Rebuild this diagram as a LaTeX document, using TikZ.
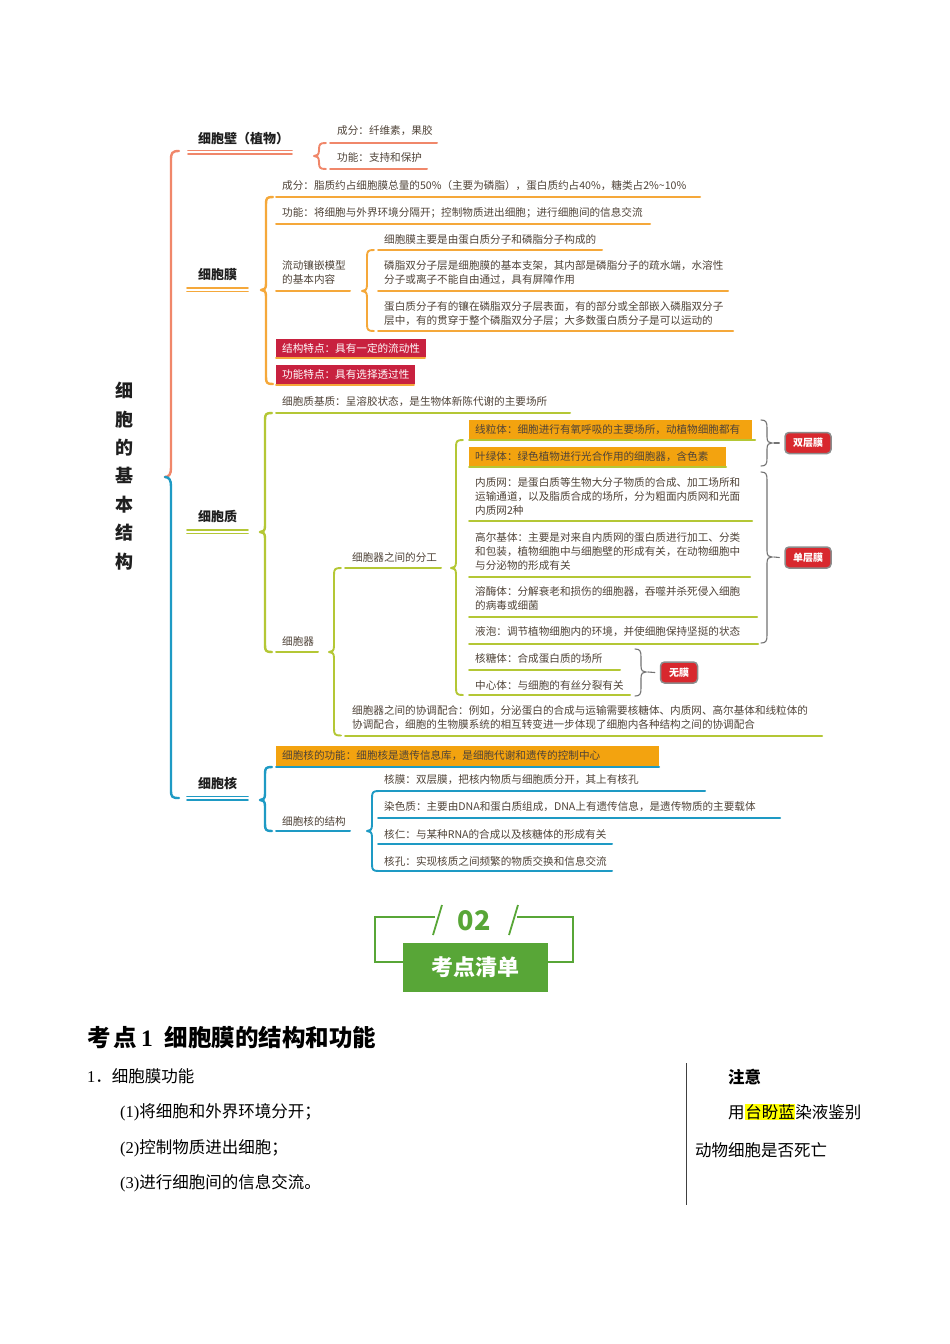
\documentclass[tikz,border=0pt]{standalone}
\usepackage{fontspec}
\setmainfont{Liberation Serif}
\newfontfamily\cjk{Noto Sans CJK SC}
\usetikzlibrary{calc}
\definecolor{salmon}{HTML}{F0876A}
\definecolor{memor}{HTML}{F5A83A}
\definecolor{cgreen}{HTML}{B4C735}
\definecolor{tealc}{HTML}{1E9AC4}
\definecolor{crim}{HTML}{C8213F}
\definecolor{oboxc}{HTML}{F3A30F}
\definecolor{tagred}{HTML}{D8282E}
\definecolor{bgreen}{HTML}{58A637}
\definecolor{txtc}{HTML}{4F4338}
\definecolor{hly}{HTML}{FFFF00}
\newcommand\hlyel[1]{{\setlength{\fboxsep}{0.6pt}\colorbox{hly}{#1}}}
% left brace: style, x, top, cusp, bottom
\newcommand\mmbraceL[5]{%
  \draw[#1] (#2+7,#3) .. controls (#2+1,#3) and (#2,#3+1) .. (#2,#3+7)
    -- (#2,#4-6) .. controls (#2,#4-1) and (#2-2,#4) .. (#2-5,#4)
    .. controls (#2-2,#4) and (#2,#4+1) .. (#2,#4+6)
    -- (#2,#5-7) .. controls (#2,#5-1) and (#2+1,#5) .. (#2+7,#5);}
% right brace: tip name, x, top, cusp, bottom
\newcommand\mmbraceR[5]{%
  \draw[gbrc] (#2-6,#3) .. controls (#2-1,#3) and (#2,#3+2) .. (#2,#3+8)
    -- (#2,#4-6) .. controls (#2,#4-1) and (#2+2,#4) .. (#2+5,#4)
    .. controls (#2+2,#4) and (#2,#4+1) .. (#2,#4+6)
    -- (#2,#5-8) .. controls (#2,#5-2) and (#2-1,#5) .. (#2-6,#5);
  \coordinate (#1) at (#2+5,#4);}
\tikzset{
  txt/.style={anchor=west, inner sep=0pt, align=left, text=txtc, font=\cjk\fontsize{10.6}{14}\selectfont},
  lbl/.style={anchor=west, inner sep=0pt, text=black!88, font=\cjk\bfseries\fontsize{13}{15}\selectfont},
  ul/.style={line width=2pt, line cap=round},
  dbl/.style={line width=1.7pt, line cap=round},
  brc/.style={line width=2.4pt, line cap=round, line join=round},
  sbrc/.style={line width=1.9pt, line cap=round, line join=round},
  gbrc/.style={line width=1.1pt, draw=black!55, line cap=round},
  redbox/.style={anchor=north west, fill=crim, inner xsep=6pt, inner ysep=0pt, text=white, font=\cjk\fontsize{10.6}{13}\selectfont},
  obox/.style={anchor=north west, fill=oboxc, inner xsep=6pt, inner ysep=0pt, minimum height=20pt, align=left, text=txtc, font=\cjk\fontsize{10.6}{13}\selectfont},
  tag/.style={rounded corners=4pt, fill=tagred, draw=black!45, line width=1.5pt, minimum width=46pt, minimum height=21pt, inner sep=0pt, text=white, font=\cjk\bfseries\fontsize{10}{12}\selectfont},
  body/.style={anchor=west, inner sep=0pt, text=black, font=\cjk\fontsize{16.5}{19}\selectfont},
}
\begin{document}
\begin{tikzpicture}[x=1pt,y=-1pt]
\useasboundingbox[fill=white] (0,0) rectangle (950,1344);

% ---- title
\node[inner sep=0pt, align=center, text=black!88, font=\cjk\bfseries\fontsize{18}{28.4}\selectfont] (title) at (124,476) {细\\胞\\的\\基\\本\\结\\构};
\draw[brc,salmon] (179,151) .. controls (172,151) and (171,153) .. (171,160) -- (171,468) .. controls (171,474) and (169,477) .. (165,477);
\draw[brc,tealc] (165,477) .. controls (169,477) and (171,480) .. (171,486) -- (171,790) .. controls (171,797) and (172,798) .. (179,798);

% ---- cell wall
\node[lbl] (cw) at (198,139) {细胞壁（植物）};
\draw[dbl,salmon] (188,150.5) -- (292,150.5);
\draw[dbl,salmon] (188,154) -- (292,154);
\mmbraceL{sbrc,salmon}{319}{143}{156}{169}
\node[txt] (cw1) at (337,131) {成分：纤维素，果胶};
\draw[ul,salmon] (330,142.5) -- (437,142.5);
\node[txt] (cw2) at (337,157) {功能：支持和保护};
\draw[ul,salmon] (330,169) -- (427,169);

% ---- cell membrane
\node[lbl] (cm) at (198,275) {细胞膜};
\draw[dbl,memor] (187,288) -- (248,288);
\draw[dbl,memor] (187,291.5) -- (248,291.5);
\mmbraceL{brc,memor}{266}{197}{290}{384}
\node[txt] (cm1) at (282,186) {成分：脂质约占细胞膜总量的50\%（主要为磷脂），蛋白质约占40\%，糖类占2\%\textasciitilde10\%};
\draw[ul,memor] (276,197) -- (700,197);
\node[txt] (cm2) at (282,213) {功能：将细胞与外界环境分隔开；控制物质进出细胞；进行细胞间的信息交流};
\draw[ul,memor] (276,223.5) -- (650,223.5);
\node[txt] (cm3) at (282,272.5) {流动镶嵌模型\\的基本内容};
\draw[ul,memor] (276,291) -- (350,291);
\mmbraceL{sbrc,memor}{367}{250}{291}{331}
\node[txt] (cm31) at (384,240) {细胞膜主要是由蛋白质分子和磷脂分子构成的};
\draw[ul,memor] (378,250) -- (602,250);
\node[txt] (cm32) at (384,273) {磷脂双分子层是细胞膜的基本支架，其内部是磷脂分子的疏水端，水溶性\\分子或离子不能自由通过，具有屏障作用};
\draw[ul,memor] (378,291) -- (728,291);
\node[txt] (cm33) at (384,313.5) {蛋白质分子有的镶在磷脂双分子层表面，有的部分或全部嵌入磷脂双分子\\层中，有的贯穿于整个磷脂双分子层；大多数蛋白质分子是可以运动的};
\draw[ul,memor] (378,331) -- (733,331);
\node[redbox, minimum height=18pt] (rb1) at (276,339) {结构特点：具有一定的流动性};
\draw[ul,memor] (276,358) -- (425,358);
\node[redbox, minimum height=19pt] (rb2) at (276,364.5) {功能特点：具有选择透过性};
\draw[ul,memor] (276,384.5) -- (414,384.5);

% ---- cytoplasm
\node[lbl] (cz) at (198,517) {细胞质};
\draw[dbl,cgreen] (187,530) -- (248,530);
\draw[dbl,cgreen] (187,533.5) -- (248,533.5);
\mmbraceL{brc,cgreen}{265}{413}{532}{652}
\node[txt] (cz1) at (282,402) {细胞质基质：呈溶胶状态，是生物体新陈代谢的主要场所};
\draw[ul,cgreen] (276,413) -- (570,413);
\node[txt] (cz2) at (282,641) {细胞器};
\draw[ul,cgreen] (276,652) -- (318,652);
\mmbraceL{sbrc,cgreen}{334}{568}{652}{735.5}
\node[txt] (fg) at (352,557) {细胞器之间的分工};
\draw[ul,cgreen] (345,568) -- (441,568);
\mmbraceL{sbrc,cgreen}{456}{440}{568}{695}
\node[obox, text width=271pt] (o1) at (469,419.5) {线粒体：细胞进行有氧呼吸的主要场所，动植物细胞都有};
\draw[ul,cgreen] (469,440) -- (755,440);
\node[obox, text width=245pt] (o2) at (469,446.5) {叶绿体：绿色植物进行光合作用的细胞器，含色素};
\draw[ul,cgreen] (469,467) -- (726,467);
\node[txt] (o3) at (475,496.5) {内质网：是蛋白质等生物大分子物质的合成、加工场所和\\运输通道，以及脂质合成的场所，分为粗面内质网和光面\\内质网2种};
\draw[ul,cgreen] (469,521) -- (752,521);
\node[txt] (o4) at (475,551) {高尔基体：主要是对来自内质网的蛋白质进行加工、分类\\和包装，植物细胞中与细胞壁的形成有关，在动物细胞中\\与分泌物的形成有关};
\draw[ul,cgreen] (469,576.5) -- (750,576.5);
\node[txt] (o5) at (475,598) {溶酶体：分解衰老和损伤的细胞器，吞噬并杀死侵入细胞\\的病毒或细菌};
\draw[ul,cgreen] (469,617) -- (757,617);
\node[txt] (o6) at (475,632) {液泡：调节植物细胞内的环境，并使细胞保持坚挺的状态};
\draw[ul,cgreen] (469,643.5) -- (758,643.5);
\node[txt] (o7) at (475,658.5) {核糖体：合成蛋白质的场所};
\draw[ul,cgreen] (469,670) -- (620,670);
\node[txt] (o8) at (475,685.5) {中心体：与细胞的有丝分裂有关};
\draw[ul,cgreen] (469,695) -- (630,695);

\mmbraceR{b1}{767}{420}{443}{466}
\node[tag] (t1) at (808,443) {双层膜};
\draw[gbrc] ($(b1)+(2,0)$) -- ($(t1.west)+(-5,0)$);
\mmbraceR{b2}{767}{472}{557}{643}
\node[tag] (t2) at (808,557.5) {单层膜};
\draw[gbrc] ($(b2)+(2,0)$) -- ($(t2.west)+(-5,0)$);
\mmbraceR{b3}{641}{649}{672}{696}
\node[tag, minimum width=37pt] (t3) at (679,672.5) {无膜};
\draw[gbrc] ($(b3)+(2,0)$) -- ($(t3.west)+(-5,0)$);

\node[txt] (xt) at (352,717.5) {细胞器之间的协调配合：例如，分泌蛋白的合成与运输需要核糖体、内质网、高尔基体和线粒体的\\协调配合，细胞的生物膜系统的相互转变进一步体现了细胞内各种结构之间的协调配合};
\draw[ul,cgreen] (345,735.5) -- (822,735.5);

% ---- nucleus
\node[lbl] (ch) at (198,783) {细胞核};
\draw[dbl,tealc] (187,796.5) -- (248,796.5);
\draw[dbl,tealc] (187,800) -- (248,800);
\mmbraceL{brc,tealc}{265}{767}{800}{831}
\node[obox, text width=371pt] (n1) at (276,745.5) {细胞核的功能：细胞核是遗传信息库，是细胞代谢和遗传的控制中心};
\draw[ul,tealc] (276,767) -- (659,767);
\node[txt] (n2) at (282,821) {细胞核的结构};
\draw[ul,tealc] (276,831) -- (350,831);
\mmbraceL{sbrc,tealc}{372}{791}{831}{871}
\node[txt] (m1) at (384,780) {核膜：双层膜，把核内物质与细胞质分开，其上有核孔};
\draw[ul,tealc] (378,790.5) -- (705,790.5);
\node[txt] (m2) at (384,807) {染色质：主要由DNA和蛋白质组成，DNA上有遗传信息，是遗传物质的主要载体};
\draw[ul,tealc] (378,817.5) -- (780,817.5);
\node[txt] (m3) at (384,834) {核仁：与某种RNA的合成以及核糖体的形成有关};
\draw[ul,tealc] (378,844) -- (612,844);
\node[txt] (m4) at (384,861) {核孔：实现核质之间频繁的物质交换和信息交流};
\draw[ul,tealc] (378,871) -- (612,871);

% ---- banner
\node[fill=bgreen, minimum width=145pt, minimum height=49pt, inner sep=0pt, text=white, font=\cjk\bfseries\fontsize{22}{24}\selectfont] (kd) at (475.5,967.5) {考点清单};
\node[inner sep=0pt, text=bgreen, font=\cjk\bfseries\fontsize{27}{28}\selectfont] (num) at (474,921) {02};
\draw[bgreen, line width=1.8pt] (435,917) -- (375,917) -- (375,962) -- (403,962);
\draw[bgreen, line width=1.8pt] (517,917) -- (573,917) -- (573,962) -- (548,962);
\draw[bgreen, line width=1.8pt] (433,935) -- (442,905);
\draw[bgreen, line width=1.8pt] (509,935) -- (518,905);

% ---- bottom text
\node[anchor=west, inner sep=0pt, text=black, font=\cjk\bfseries\fontsize{23.5}{26}\selectfont] (h1) at (87,1038) {考\hspace{3pt}点\hspace{4pt}{\rmfamily\bfseries 1}\hspace{12pt}细胞膜的结构和功能};
\node[body] (i0) at (87,1076) {{\rmfamily 1}．细胞膜功能};
\node[body] (i1) at (120,1112) {{\rmfamily (1)}将细胞和外界环境分开；};
\node[body] (i2) at (120,1148) {{\rmfamily (2)}控制物质进出细胞；};
\node[body] (i3) at (120,1183) {{\rmfamily (3)}进行细胞间的信息交流。};
\draw[line width=0.8pt, black!75] (686,1063) -- (686,1205);
\node[body, font=\cjk\bfseries\fontsize{16.5}{19}\selectfont] (zy) at (728,1077) {注意};
\node[body] (zy2) at (728,1112) {用\hlyel{台盼蓝}染液鉴别};
\node[body] (zy3) at (695,1150) {动物细胞是否死亡};
\end{tikzpicture}
\end{document}
